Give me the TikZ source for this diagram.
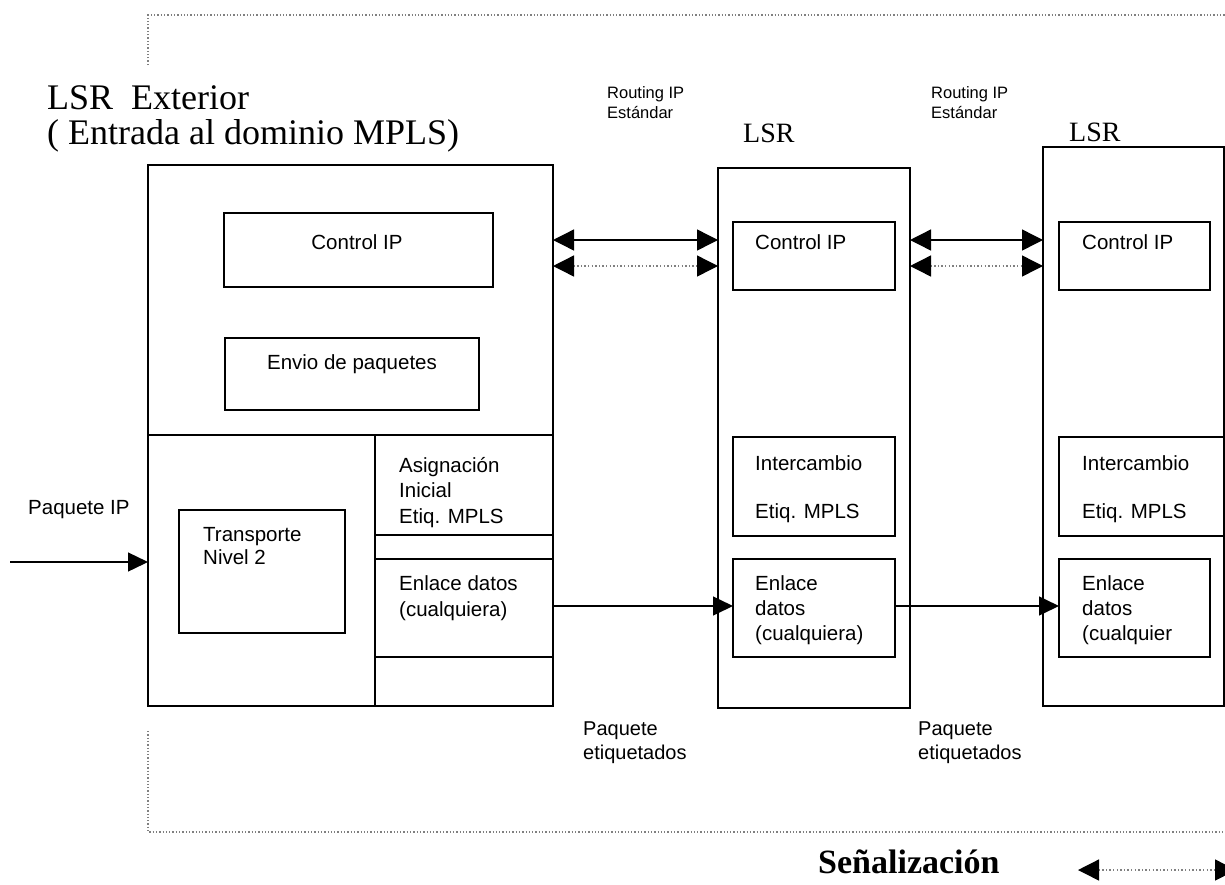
\documentclass[tikz,border=0pt]{standalone}
\usepackage{fontspec}
\setmainfont{Liberation Serif}
\newfontfamily\lblfont{Liberation Sans}
\usetikzlibrary{arrows.meta,calc}
\tikzset{
  box/.style={draw, line width=1.8pt, inner sep=0pt, outer sep=0pt},
  lbl/.style={font=\lblfont\fontsize{20.5}{25.5}\selectfont, inner sep=0pt, align=left},
  small/.style={font=\lblfont\fontsize{16.5}{20}\selectfont, inner sep=0pt, align=left},
  title/.style={font=\fontsize{36}{35}\selectfont, inner sep=0pt, align=left},
  lsrt/.style={font=\fontsize{28}{30}\selectfont, inner sep=0pt},
  conn/.style={line width=1.4pt, -{Triangle[length=20pt,width=19pt]}},
  dbl/.style={line width=1.4pt, {Triangle[length=21pt,width=21pt,color=black]}-{Triangle[length=21pt,width=21pt,color=black]}},
  dbldot/.style={dbl, draw=gray, dash pattern=on 1.4pt off 2.2pt, line cap=butt},
  frame/.style={gray, line width=1.3pt, dash pattern=on 1.3pt off 2pt}
}
\begin{document}
\begin{tikzpicture}[x=1pt,y=-1pt]
\useasboundingbox (0,0) rectangle (1225,884);
\clip (0,0) rectangle (1225,884);

% dotted frame
\draw[frame] (148,65) -- (148,15) -- (1225,15);
\draw[frame] (148,731) -- (148,832) -- (1225,832);

% LSR exterior
\node[box, minimum width=405pt, minimum height=541pt] (lsrext) at (350.5,435.5) {};
\node[box, minimum width=405pt, minimum height=271pt] (lower) at (350.5,570.5) {};
\draw[line width=1.8pt] (375,435) -- (375,706);
\node[box, minimum width=178pt, minimum height=100pt] (asig) at (464,485) {};
\node[box, minimum width=178pt, minimum height=98pt] (enl1) at (464,608) {};
\node[box, minimum width=269pt, minimum height=74pt] (ctl1) at (358.5,250) {};
\node[box, minimum width=254pt, minimum height=72pt] (env) at (352,374) {};
\node[box, minimum width=166pt, minimum height=123pt] (trans) at (262,571.5) {};

\node[lbl, anchor=base] (tctl1) at (357,249) {Control IP};
\node[lbl, anchor=base] (tenv) at (352,369) {Envio de paquetes};
\node[lbl, anchor=north west, font=\lblfont\fontsize{20.5}{23}\selectfont] (ttrans) at (203,527) {Transporte\\Nivel 2};
\node[lbl, anchor=north west] (tasig) at (399,457) {Asignación\\Inicial\\Etiq. MPLS};
\node[lbl, anchor=north west, font=\lblfont\fontsize{20.5}{26}\selectfont] (tenl1) at (399,575) {Enlace datos\\(cualquiera)};

% LSR 2
\node[box, minimum width=192pt, minimum height=540pt] (lsr2) at (814,438) {};
\node[box, minimum width=162pt, minimum height=68pt] (ctl2) at (814,256) {};
\node[box, minimum width=162pt, minimum height=99pt] (int2) at (814,486.5) {};
\node[box, minimum width=162pt, minimum height=98pt] (enl2) at (814,608) {};
\node[lbl, anchor=base west] (tctl2) at (755,249) {Control IP};
\node[lbl, anchor=north west] (tint2) at (755,455) {Intercambio\\[22.5pt]Etiq. MPLS};
\node[lbl, anchor=north west, font=\lblfont\fontsize{20.5}{25}\selectfont] (tenl2) at (755,575) {Enlace\\datos\\(cualquiera)};

% LSR 3
\node[box, minimum width=181pt, minimum height=559pt] (lsr3) at (1133.5,426.5) {};
\node[box, minimum width=151pt, minimum height=68pt] (ctl3) at (1134.5,256) {};
\node[box, minimum width=165pt, minimum height=99pt] (int3) at (1141.5,486.5) {};
\node[box, minimum width=151pt, minimum height=98pt] (enl3) at (1134.5,608) {};
\node[lbl, anchor=base west] (tctl3) at (1082,249) {Control IP};
\node[lbl, anchor=north west] (tint3) at (1082,455) {Intercambio\\[22.5pt]Etiq. MPLS};
\node[lbl, anchor=north west, font=\lblfont\fontsize{20.5}{25}\selectfont] (tenl3) at (1082,575) {Enlace\\datos\\(cualquier};

% titles
\node[title, anchor=north west] (ttitle) at (47,85) {LSR\ \ Exterior\\( Entrada al dominio MPLS)};
\node[small, anchor=north west] (rt1) at (607,86) {Routing IP\\Estándar};
\node[small, anchor=north west] (rt2) at (931,86) {Routing IP\\Estándar};
\node[lsrt, anchor=base west] (tl2) at (743,142) {LSR};
\node[lsrt, anchor=base west] (tl3) at (1069,141) {LSR};
\node[lbl, anchor=base west] (tpip) at (28,514) {Paquete IP};
\node[lbl, anchor=north west, font=\lblfont\fontsize{20}{24}\selectfont] (tpe1) at (583,722) {Paquete\\etiquetados};
\node[lbl, anchor=north west, font=\lblfont\fontsize{20}{24}\selectfont] (tpe2) at (918,722) {Paquete\\etiquetados};
\node[font=\bfseries\fontsize{34}{36}\selectfont, inner sep=0pt, anchor=base west] (tsen) at (818,873) {Señalización};

% connectors
\coordinate (ya) at (0,240);
\coordinate (yb) at (0,266);
\coordinate (yd) at (0,606);
\coordinate (yp) at (0,562);
\coordinate (pstart) at (10,562);
\draw[dbl] (lsrext.east |- ya) -- (lsr2.west |- ya);
\draw[dbldot] (lsrext.east |- yb) -- (lsr2.west |- yb);
\draw[dbl] (lsr2.east |- ya) -- (lsr3.west |- ya);
\draw[dbldot] (lsr2.east |- yb) -- (lsr3.west |- yb);
\draw[conn] (pstart) -- (lsrext.west |- yp);
\draw[conn] (lsrext.east |- yd) -- (enl2.west |- yd);
\draw[conn] (enl2.east |- yd) -- (enl3.west |- yd);

% legend
\coordinate (lga) at (1078,870);
\coordinate (lgb) at (1236,870);
\draw[dbldot] (lga) -- (lgb);
\end{tikzpicture}
\end{document}
